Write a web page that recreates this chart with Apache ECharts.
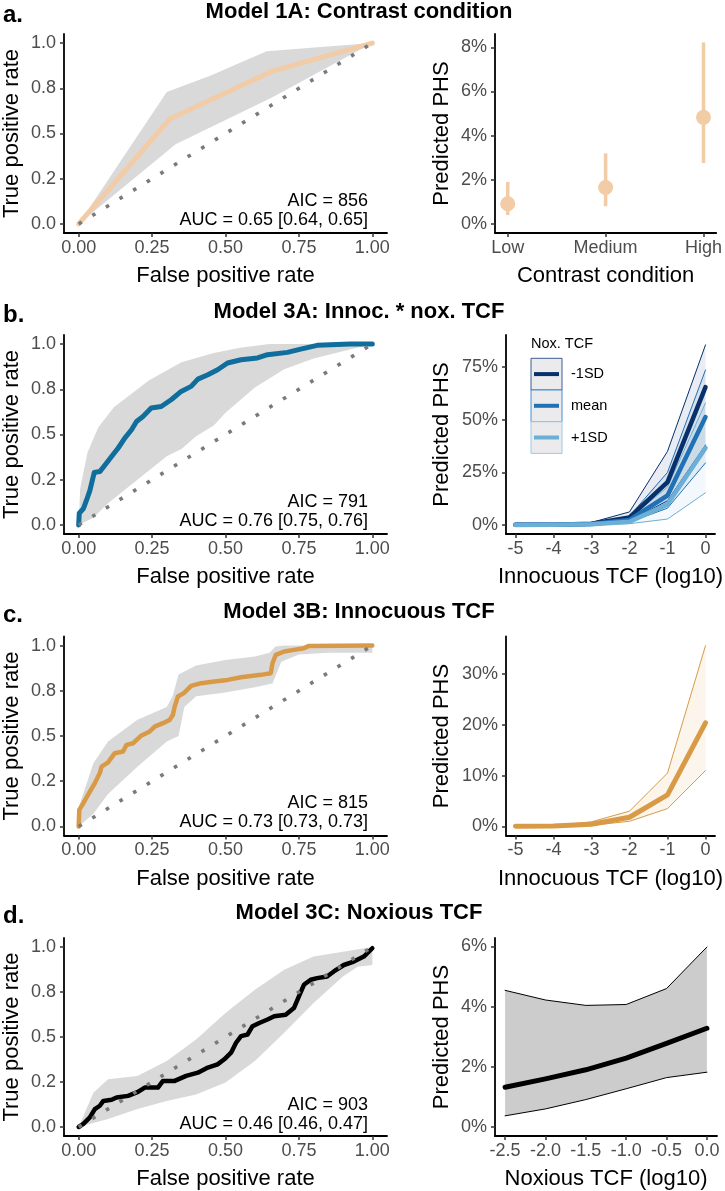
<!DOCTYPE html>
<html><head><meta charset="utf-8">
<script src="https://cdn.jsdelivr.net/npm/echarts@6/dist/echarts.min.js"></script>
<style>html,body{margin:0;padding:0;background:#fff}#c{width:725px;height:1191px}</style>
</head><body><div id="c"></div><script>
// ---------- tick values & labels ----------
const rocTicks = [0, 0.25, 0.5, 0.75, 1];
const rocXLabels = ['0.00', '0.25', '0.50', '0.75', '1.00'];
const rocYLabels = ['0.0', '0.2', '0.5', '0.8', '1.0'];
const diagonal = [[0, 0], [1, 1]];

const panelLetters = ['a.', 'b.', 'c.', 'd.'];
const panelTitles = ['Model 1A: Contrast condition', 'Model 3A: Innoc. * nox. TCF', 'Model 3B: Innocuous TCF', 'Model 3C: Noxious TCF'];
const aicTexts = ['AIC = 856', 'AIC = 791', 'AIC = 815', 'AIC = 903'];
const aucTexts = ['AUC = 0.65 [0.64, 0.65]', 'AUC = 0.76 [0.75, 0.76]', 'AUC = 0.73 [0.73, 0.73]', 'AUC = 0.46 [0.46, 0.47]'];

// ---------- ROC curves (fpr, tpr) ----------
const rocA = [[0, 0], [0.31, 0.58], [0.66, 0.845], [1, 1]];
const cloudAUpper = [[0, 0], [0.3, 0.73], [0.45, 0.82], [0.64, 0.955], [1, 1]];
const cloudALower = [[0, 0], [0.33, 0.44], [0.66, 0.70], [1, 1]];

const rocB = [[0, 0], [0.002, 0.065], [0.016, 0.09], [0.027, 0.138], [0.038, 0.19], [0.053, 0.29], [0.072, 0.295], [0.089, 0.33], [0.112, 0.378], [0.134, 0.424], [0.157, 0.48], [0.18, 0.526], [0.197, 0.572], [0.219, 0.6], [0.247, 0.646], [0.281, 0.655], [0.315, 0.692], [0.349, 0.738], [0.383, 0.766], [0.406, 0.806], [0.44, 0.83], [0.473, 0.858], [0.507, 0.895], [0.553, 0.913], [0.609, 0.923], [0.643, 0.941], [0.711, 0.954], [0.756, 0.972], [0.812, 0.993], [0.925, 1.0], [1, 1]];
const cloudBUpper = [[0, 0], [0.005, 0.2], [0.03, 0.4], [0.067, 0.54], [0.12, 0.65], [0.24, 0.8], [0.35, 0.9], [0.46, 0.95], [0.55, 0.98], [0.65, 1.0], [1, 1]];
const cloudBLower = [[0, 0], [0.05, 0.04], [0.1, 0.12], [0.2, 0.25], [0.3, 0.38], [0.35, 0.42], [0.4, 0.49], [0.46, 0.55], [0.5, 0.62], [0.6, 0.76], [0.7, 0.86], [0.8, 0.92], [0.9, 0.96], [1, 1]];

const rocC = [[0, 0], [0.002, 0.092], [0.016, 0.129], [0.035, 0.184], [0.055, 0.24], [0.072, 0.295], [0.078, 0.331], [0.1, 0.354], [0.123, 0.405], [0.151, 0.414], [0.163, 0.451], [0.185, 0.46], [0.214, 0.503], [0.242, 0.525], [0.259, 0.552], [0.287, 0.571], [0.31, 0.589], [0.321, 0.617], [0.327, 0.663], [0.338, 0.718], [0.358, 0.737], [0.383, 0.777], [0.417, 0.792], [0.462, 0.801], [0.507, 0.81], [0.553, 0.825], [0.62, 0.838], [0.654, 0.847], [0.66, 0.902], [0.671, 0.948], [0.7, 0.967], [0.733, 0.976], [0.767, 0.985], [0.784, 0.998], [1, 1]];
const cloudCUpper = [[0, 0], [0.003, 0.12], [0.05, 0.35], [0.1, 0.47], [0.2, 0.59], [0.3, 0.66], [0.32, 0.72], [0.34, 0.84], [0.4, 0.89], [0.5, 0.92], [0.6, 0.94], [0.65, 0.96], [0.67, 0.995], [0.7, 1.0], [1, 1]];
const cloudCLower = [[0, 0], [0.05, 0.07], [0.1, 0.18], [0.2, 0.33], [0.3, 0.47], [0.34, 0.5], [0.36, 0.66], [0.4, 0.72], [0.5, 0.74], [0.6, 0.77], [0.66, 0.79], [0.69, 0.91], [0.75, 0.95], [0.85, 0.96], [1, 0.96], [1, 1]];

const rocD = [[0, 0], [0.016, 0.017], [0.038, 0.053], [0.055, 0.099], [0.072, 0.118], [0.084, 0.145], [0.112, 0.151], [0.129, 0.164], [0.168, 0.173], [0.202, 0.195], [0.225, 0.219], [0.27, 0.219], [0.287, 0.256], [0.327, 0.256], [0.366, 0.284], [0.406, 0.302], [0.44, 0.33], [0.473, 0.348], [0.496, 0.376], [0.519, 0.413], [0.536, 0.468], [0.553, 0.505], [0.575, 0.514], [0.592, 0.56], [0.615, 0.578], [0.643, 0.597], [0.666, 0.615], [0.705, 0.624], [0.733, 0.661], [0.75, 0.726], [0.767, 0.79], [0.79, 0.818], [0.812, 0.827], [0.846, 0.836], [0.869, 0.864], [0.903, 0.9], [0.937, 0.919], [0.971, 0.947], [1, 0.993]];
const cloudDUpper = [[0, 0], [0.05, 0.19], [0.1, 0.265], [0.2, 0.284], [0.3, 0.366], [0.4, 0.486], [0.5, 0.634], [0.6, 0.762], [0.7, 0.873], [0.8, 0.947], [0.9, 0.974], [1, 1]];
const cloudDLower = [[0, 0], [0.1, 0.044], [0.2, 0.1], [0.3, 0.145], [0.4, 0.18], [0.5, 0.247], [0.6, 0.366], [0.7, 0.523], [0.8, 0.689], [0.9, 0.836], [0.95, 0.89], [1, 0.9], [1, 1]];

// ---------- Panel a right: contrast condition ----------
const contrastCats = ['Low', 'Medium', 'High'];
const contrastPos = [0, 1, 2];
const phsA = [0.92, 1.66, 4.83];
const phsALow = [0.41, 0.81, 2.76];
const phsAHigh = [1.91, 3.2, 8.22];
const pctTicksA = [0, 2, 4, 6, 8];
const pctLabelsA = ['0%', '2%', '4%', '6%', '8%'];

// ---------- Panel b right: Innoc * nox ----------
const innocX = [-5, -4, -3, -2, -1, 0];
const innocLabels = ['-5', '-4', '-3', '-2', '-1', '0'];
const noxGroups = ['-1SD', 'mean', '+1SD'];
const bFit = [[0.05, 0.15, 0.6, 3.6, 20.4, 65.5], [0.04, 0.12, 0.45, 2.4, 14.0, 51.3], [0.03, 0.09, 0.3, 1.5, 9.8, 36.6]];
const bUpper = [[0.1, 0.3, 1.2, 6.2, 35.0, 85.6], [0.08, 0.25, 0.9, 4.2, 25.0, 73.7], [0.07, 0.2, 0.7, 3.2, 18.0, 58.0]];
const bLower = [[0.02, 0.07, 0.3, 2.0, 11.5, 38.0], [0.02, 0.06, 0.2, 1.3, 8.0, 29.5], [0.01, 0.04, 0.12, 0.6, 2.8, 15.3]];
const pctTicksB = [0, 25, 50, 75];
const pctLabelsB = ['0%', '25%', '50%', '75%'];

// ---------- Panel c right: Innocuous ----------
const cFit = [0.02, 0.08, 0.4, 1.8, 6.2, 20.4];
const cUpper = [0.05, 0.15, 0.9, 3.0, 10.5, 35.6];
const cLower = [0.01, 0.04, 0.2, 1.0, 3.5, 11.0];
const pctTicksC = [0, 10, 20, 30];
const pctLabelsC = ['0%', '10%', '20%', '30%'];

// ---------- Panel d right: Noxious ----------
const noxX = [-2.5, -2.0, -1.5, -1.0, -0.5, 0.0];
const noxLabels = ['-2.5', '-2.0', '-1.5', '-1.0', '-0.5', '0.0'];
const dFit = [1.32, 1.6, 1.9, 2.29, 2.78, 3.28];
const dUpper = [4.54, 4.22, 4.04, 4.07, 4.6, 5.98];
const dLower = [0.37, 0.6, 0.91, 1.27, 1.64, 1.82];
const pctTicksD = [0, 2, 4, 6];
const pctLabelsD = ['0%', '2%', '4%', '6%'];

// ================= build =================
const F = '"Liberation Sans", Arial, Helvetica, sans-serif';
const zip = (xs, ys) => xs.map((x, i) => [x, ys[i]]);
function lookup(vals, labels) {
  return function (v) {
    let bi = 0, bd = Infinity;
    vals.forEach((t, i) => { const d = Math.abs(t - v); if (d < bd) { bd = d; bi = i; } });
    return labels[bi];
  };
}
function mkAxis(gi, min, max, ticks, labels, name, nameGap, isY) {
  return {
    type: 'value', gridIndex: gi, min: min, max: max,
    name: name, nameLocation: 'middle', nameGap: nameGap,
    nameTextStyle: { color: '#000', fontSize: 22, fontFamily: F },
    axisLine: { show: true, onZero: false, lineStyle: { color: '#000', width: 1.8 } },
    axisTick: { show: true, length: 4, customValues: ticks, lineStyle: { color: '#333', width: 1.5 } },
    axisLabel: { show: true, customValues: ticks, formatter: lookup(ticks, labels), color: '#4d4d4d', fontSize: 18, fontFamily: F, margin: isY ? 8 : 6 },
    splitLine: { show: false }
  };
}
function band(gi, upper, lower, fill, z) {
  return {
    type: 'custom', xAxisIndex: gi, yAxisIndex: gi, z: z || 1, silent: true,
    data: [upper[0]],
    renderItem: function (params, api) {
      const pts = upper.map(p => api.coord(p)).concat(lower.slice().reverse().map(p => api.coord(p)));
      return { type: 'polygon', shape: { points: pts }, style: { fill: fill } };
    }
  };
}
function line(gi, data, color, width, z, type) {
  return {
    type: 'line', xAxisIndex: gi, yAxisIndex: gi, data: data, showSymbol: false, symbol: 'none',
    silent: true, z: z || 3,
    lineStyle: { color: color, width: width, type: type || 'solid', cap: type ? 'butt' : 'round', join: 'round' }
  };
}

const rowTops = [34, 335, 636.5, 938];
const H = 199;
const grids = [], xAxes = [], yAxes = [], series = [], graphics = [];
const rightLeft = [495, 506, 506, 495];
rowTops.forEach((t, r) => {
  grids.push({ left: 62, top: t, width: 325, height: H });
  grids.push({ left: rightLeft[r], top: t, width: 717 - rightLeft[r], height: H });
});

// ROC panels
const rocs = [rocA, rocB, rocC, rocD];
const cloudsU = [cloudAUpper, cloudBUpper, cloudCUpper, cloudDUpper];
const cloudsL = [cloudALower, cloudBLower, cloudCLower, cloudDLower];
const rocColors = ['#f2cba7', '#0f6e9c', '#d99a48', '#000000'];
const rocWidths = [5, 5, 4.5, 4.5];
for (let r = 0; r < 4; r++) {
  const gi = r * 2;
  xAxes.push(mkAxis(gi, -0.05, 1.05, rocTicks, rocXLabels, 'False positive rate', 32, false));
  yAxes.push(mkAxis(gi, -0.05, 1.05, rocTicks, rocYLabels, 'True positive rate', 41, true));
  const ri = gi + 1;
  if (r === 0) {
    xAxes.push(mkAxis(ri, -0.13, 2.13, contrastPos, contrastCats, 'Contrast condition', 32, false));
    yAxes.push(mkAxis(ri, -0.4, 8.6, pctTicksA, pctLabelsA, 'Predicted PHS', 42, true));
  } else if (r === 1 || r === 2) {
    xAxes.push(mkAxis(ri, -5.25, 0.25, innocX, innocLabels, 'Innocuous TCF (log10)', 32, false));
    if (r === 1) yAxes.push(mkAxis(ri, -4.3, 90.3, pctTicksB, pctLabelsB, 'Predicted PHS', 53, true));
    else yAxes.push(mkAxis(ri, -1.8, 37.4, pctTicksC, pctLabelsC, 'Predicted PHS', 53, true));
  } else {
    xAxes.push(mkAxis(ri, -2.625, 0.125, noxX, noxLabels, 'Noxious TCF (log10)', 32, false));
    yAxes.push(mkAxis(ri, -0.3, 6.28, pctTicksD, pctLabelsD, 'Predicted PHS', 42, true));
  }
  series.push(band(gi, cloudsU[r], cloudsL[r], '#d9d9d9', 1));
  series.push(line(gi, rocs[r], rocColors[r], rocWidths[r], 3));
  series.push(line(gi, diagonal, '#7a7a7a', 3.6, 4, [3.6, 12.4]));
}

// Panel a right: error bars + points
series.push({
  type: 'custom', xAxisIndex: 1, yAxisIndex: 1, z: 2, silent: true,
  data: contrastPos.map((x, i) => [x, phsALow[i], phsAHigh[i]]),
  encode: { x: 0, y: [1, 2] },
  renderItem: function (params, api) {
    const a = api.coord([api.value(0), api.value(1)]);
    const b = api.coord([api.value(0), api.value(2)]);
    return { type: 'line', shape: { x1: a[0], y1: a[1], x2: b[0], y2: b[1] }, style: { stroke: '#f2cba7', lineWidth: 3.5 } };
  }
});
series.push({
  type: 'scatter', xAxisIndex: 1, yAxisIndex: 1, z: 3, silent: true, symbolSize: 15,
  itemStyle: { color: '#f2cba7', opacity: 1 },
  data: zip(contrastPos, phsA)
});

// Panel b right
const bColors = ['#08306b', '#2171b5', '#6baed6'];
const bFills = ['rgba(8,48,107,0.09)', 'rgba(33,113,181,0.09)', 'rgba(107,174,214,0.09)'];
for (let g = 0; g < 3; g++) {
  series.push(band(3, zip(innocX, bUpper[g]), zip(innocX, bLower[g]), bFills[g], 1));
  series.push(line(3, zip(innocX, bUpper[g]), bColors[g], 1, 2));
  series.push(line(3, zip(innocX, bLower[g]), bColors[g], 1, 2));
}
for (let g = 0; g < 3; g++) series.push(line(3, zip(innocX, bFit[g]), bColors[g], 4.5, 3 + g * 0.1));

// Panel c right
series.push(band(5, zip(innocX, cUpper), zip(innocX, cLower), 'rgba(217,154,72,0.1)', 1));
series.push(line(5, zip(innocX, cUpper), '#d99a48', 1, 2));
series.push(line(5, zip(innocX, cLower), '#d99a48', 1, 2));
series.push(line(5, zip(innocX, cFit), '#d99a48', 5, 3));

// Panel d right
series.push(band(7, zip(noxX, dUpper), zip(noxX, dLower), '#cccccc', 1));
series.push(line(7, zip(noxX, dUpper), '#000', 1, 2));
series.push(line(7, zip(noxX, dLower), '#000', 1, 2));
series.push(line(7, zip(noxX, dFit), '#000', 5, 3));

// ---------- text ----------
const titleY = [12, 312, 612, 913];
function txt(text, x, y, font, align, fill) {
  return { type: 'text', x: x, y: y, silent: true, z: 10,
    style: { text: text, font: font, fill: fill || '#000', textAlign: align, textVerticalAlign: 'middle', align: align, verticalAlign: 'middle' } };
}
for (let r = 0; r < 4; r++) {
  graphics.push(txt(panelLetters[r], 3, titleY[r] + 3, 'bold 24px ' + F, 'left'));
  graphics.push(txt(panelTitles[r], 359, titleY[r], 'bold 22px ' + F, 'center'));
  const off = rowTops[r] - rowTops[0];
  graphics.push(txt(aicTexts[r], 368, 201 + off, '18px ' + F, 'right'));
  graphics.push(txt(aucTexts[r], 368, 220 + off, '18px ' + F, 'right'));
}
// Legend for panel b right
graphics.push(txt('Nox. TCF', 531, 343.5, '14.5px ' + F, 'left'));
const keyBorders = ['#3d5c94', '#4a8dcc', '#9cc7e6'];
const keyTop = [358.3, 390, 421.7];
for (let g = 0; g < 3; g++) {
  graphics.push({ type: 'rect', silent: true, z: 10, shape: { x: 531, y: keyTop[g], width: 31, height: 31.7 },
    style: { fill: '#ebebee', stroke: keyBorders[g], lineWidth: 1 } });
  graphics.push({ type: 'line', silent: true, z: 11, shape: { x1: 534, y1: keyTop[g] + 15.8, x2: 559, y2: keyTop[g] + 15.8 },
    style: { stroke: bColors[g], lineWidth: 4 } });
  graphics.push(txt(noxGroups[g], 571, keyTop[g] + 15.8, '14.5px ' + F, 'left'));
}

const chart = echarts.init(document.getElementById('c'), null, { renderer: 'canvas' });
chart.setOption({
  animation: false,
  backgroundColor: '#fff',
  grid: grids, xAxis: xAxes, yAxis: yAxes, series: series, graphic: graphics
});
</script></body></html>
